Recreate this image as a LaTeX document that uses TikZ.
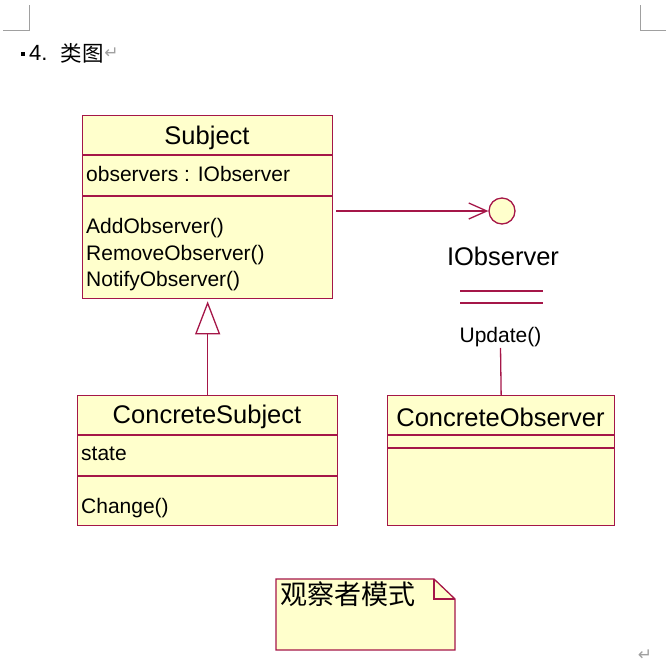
\documentclass[tikz,border=0pt]{standalone}
\usepackage{fontspec}
\setmainfont{Liberation Sans}
\newfontfamily\cjk{Noto Sans CJK SC}
\newfontfamily\symfont{DejaVu Sans}
\usetikzlibrary{arrows.meta,positioning}
\definecolor{umlred}{RGB}{165,22,72}
\definecolor{umlfill}{RGB}{255,255,204}
\definecolor{markgray}{RGB}{160,160,160}

\begin{document}
\begin{tikzpicture}[x=1pt,y=-1pt,
    classbox/.style={draw=umlred,fill=umlfill,line width=1.3pt,inner sep=0pt,anchor=north west},
    sep/.style={draw=umlred,line width=1.3pt},
    cname/.style={font=\fontsize{25.5}{30}\selectfont,inner sep=0pt,yshift=-2pt},
    member/.style={font=\fontsize{21}{25}\selectfont,inner sep=0pt,anchor=west,yshift=-2pt},
    retmark/.style={text=markgray,font=\symfont\fontsize{17}{19}\selectfont,inner sep=0pt}]
   \useasboundingbox (0,0) rectangle (671,665);
   \draw[markgray,line width=1pt] (3,30) -- (29,30) -- (29,5);
   \draw[markgray,line width=1pt] (666,30) -- (640,30) -- (640,5);

   \fill (21,52) rectangle (25,56);
   \node[anchor=west,inner sep=0pt,font=\fontsize{22}{26}\selectfont] (num) at (29,53) {4.};
   \node[inner sep=0pt,font=\cjk\fontsize{21.5}{26}\selectfont] (heading) [right=13pt of num] {类图};
   \node[retmark] (ret1) [right=0pt of heading] {↵};

   \node[classbox,minimum width=250pt,minimum height=183pt] (subject) at (82,115) {};
   \node[cname] (subjectname) at (207,136) {Subject};
   \draw[sep] (82,155) -- (332,155);
   \node[member] (observers) at (86,172) {observers : IObserver};
   \draw[sep] (82,196) -- (332,196);
   \node[member] (add) at (86,226) {AddObserver()};
   \node[member] (remove) at (86,253) {RemoveObserver()};
   \node[member] (notify) at (86,279) {NotifyObserver()};

   \node[circle,draw=umlred,fill=umlfill,line width=1.3pt,minimum size=26pt,inner sep=0pt] (iobs) at (502,211) {};
   \node[cname,yshift=2pt] (iobsname) at (503,256) {IObserver};
   \draw[sep] (460,291) -- (543,291);
   \draw[sep] (460,303) -- (543,303);
   \node[member,anchor=center] (update) at (500.5,335) {Update()};

   \node[classbox,minimum width=260pt,minimum height=130pt] (csubject) at (77,395) {};
   \node[cname] (csubjectname) at (207,415) {ConcreteSubject};
   \draw[sep] (77,435) -- (337,435);
   \node[member] (state) at (81,452) {state};
   \draw[sep] (77,476) -- (337,476);
   \node[member] (change) at (81,506) {Change()};

   \node[classbox,minimum width=227pt,minimum height=130pt] (cobserver) at (387,395) {};
   \node[cname] (cobservername) at (500.5,415) {ConcreteObserver};
   \draw[sep] (387,435) -- (614,435);
   \draw[sep] (387,448) -- (614,448);

   \path[sep]
       (subject.east |- iobs.west) edge[-{Straight Barb[length=18pt,width=16pt,line width=1.3pt]},shorten <=3pt] (iobs.west)
       (csubject.north) edge[-{Triangle[open,length=33pt,width=25pt,line width=1.3pt]},shorten >=2pt] (subject.south)
       (update.south) edge[shorten <=1pt] (cobserver.north);

   \draw[sep,fill=umlfill] (276,579) -- (434,579) -- (455,599) -- (455,650) -- (276,650) -- cycle;
   \draw[sep] (434,579) -- (434,599) -- (455,599);
   \node[anchor=north west,inner sep=0pt,font=\cjk\fontsize{27}{30}\selectfont] (note) at (280,581) {观察者模式};

   \node[retmark] (ret2) at (645,655) {↵};
\end{tikzpicture}
\end{document}
